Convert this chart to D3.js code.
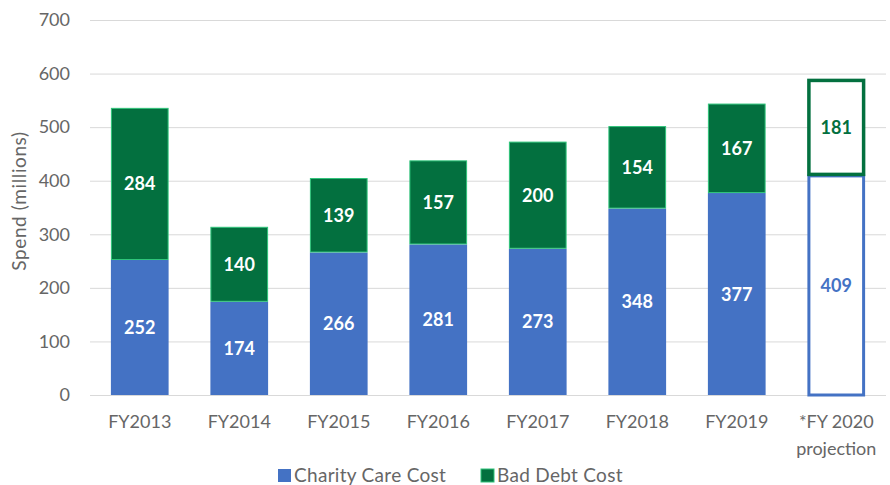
<!DOCTYPE html>
<html>
<head>
<meta charset="utf-8">
<script src="https://cdn.jsdelivr.net/npm/d3@7"></script>
<style>
  body { margin: 0; background: #fff; }
  text { font-family: Lato, "Open Sans", sans-serif; }
</style>
</head>
<body>
<script>
// chart values
var years = ["FY2013", "FY2014", "FY2015", "FY2016", "FY2017", "FY2018", "FY2019", "*FY 2020 projection"];
var charityCare = [252, 174, 266, 281, 273, 348, 377, 409];
var badDebt = [284, 140, 139, 157, 200, 154, 167, 181];
var yTicks = [0, 100, 200, 300, 400, 500, 600, 700];
var seriesNames = ["Charity Care Cost", "Bad Debt Cost"];

var width = 890, height = 485;
var margin = {left: 90, right: 4, top: 20, bottom: 90};
var blue = "#4472C4", green = "#03703F", lightGreen = "#2FC47A";
var grey = "#666666";

var svg = d3.select("body").append("svg")
  .attr("width", width)
  .attr("height", height);

var x = d3.scaleBand()
  .domain(years)
  .range([margin.left, width - margin.right])
  .paddingInner(0.42)
  .paddingOuter(0.21);

var y = d3.scaleLinear()
  .domain([0, 700])
  .range([height - margin.bottom, margin.top]);

// gridlines
svg.append("g")
  .selectAll("line")
  .data(yTicks)
  .enter()
  .append("line")
  .attr("x1", margin.left)
  .attr("x2", width - margin.right)
  .attr("y1", function(d){ return y(d) + 0.5; })
  .attr("y2", function(d){ return y(d) + 0.5; })
  .attr("stroke", "#d9d9d9")
  .attr("stroke-width", 1);

// y axis labels
var yAxis = d3.axisLeft(y).tickValues(yTicks).tickSize(0).tickPadding(20);
var yg = svg.append("g")
  .attr("transform", "translate(" + margin.left + ",0)")
  .call(yAxis);
yg.select(".domain").remove();
yg.selectAll("text").attr("fill", grey).style("font-size", "18px").style("font-family", "Lato");

svg.append("text")
  .attr("transform", "rotate(-90)")
  .attr("x", -201)
  .attr("y", 26)
  .attr("text-anchor", "middle")
  .attr("fill", grey)
  .style("font-size", "19px")
  .style("letter-spacing", "0.6px")
  .text("Spend (millions)");

// bars
var last = years.length - 1;
var stacked = years.map(function(d, i){
  return {year: d, charity: charityCare[i], debt: badDebt[i], proj: i == last};
});

var bars = svg.append("g").selectAll("g")
  .data(stacked)
  .enter()
  .append("g");

bars.append("rect")
  .attr("x", function(d){ return x(d.year) + (d.proj ? 1.5 : 0); })
  .attr("width", function(d){ return x.bandwidth() - (d.proj ? 3 : 0); })
  .attr("y", function(d){ return y(d.charity); })
  .attr("height", function(d){ return y(0) - y(d.charity); })
  .attr("fill", function(d){ return d.proj ? "#fff" : blue; })
  .attr("stroke", function(d){ return d.proj ? blue : "none"; })
  .attr("stroke-width", 3);

bars.append("rect")
  .attr("x", function(d){ return x(d.year) + (d.proj ? 1.5 : 0.5); })
  .attr("width", function(d){ return x.bandwidth() - (d.proj ? 3 : 1); })
  .attr("y", function(d){ return y(d.charity + d.debt) + (d.proj ? 1.5 : 0.5); })
  .attr("height", function(d){ return y(d.charity) - y(d.charity + d.debt) - (d.proj ? 3 : 1); })
  .attr("fill", function(d){ return d.proj ? "#fff" : green; })
  .attr("stroke", function(d){ return d.proj ? green : lightGreen; })
  .attr("stroke-width", function(d){ return d.proj ? 3.5 : 1; });

// value labels
bars.append("text")
  .attr("x", function(d){ return x(d.year) + x.bandwidth() / 2; })
  .attr("y", function(d){ return (y(0) + y(d.charity)) / 2 + 6.5; })
  .attr("text-anchor", "middle")
  .attr("fill", function(d){ return d.proj ? blue : "#fff"; })
  .style("font-size", "18px")
  .style("font-weight", "bold")
  .text(function(d){ return d.charity; });

bars.append("text")
  .attr("x", function(d){ return x(d.year) + x.bandwidth() / 2; })
  .attr("y", function(d){ return (y(d.charity) + y(d.charity + d.debt)) / 2 + 6.5; })
  .attr("text-anchor", "middle")
  .attr("fill", function(d){ return d.proj ? green : "#fff"; })
  .style("font-size", "18px")
  .style("font-weight", "bold")
  .text(function(d){ return d.debt; });

// x axis labels
var xAxis = d3.axisBottom(x).tickSize(0).tickPadding(0).tickFormat("");
var xg = svg.append("g")
  .attr("transform", "translate(0," + y(0) + ")")
  .call(xAxis);
xg.select(".domain").remove();
xg.selectAll(".tick").append("text")
  .attr("fill", grey)
  .attr("text-anchor", "middle")
  .style("font-size", "18px")
  .style("font-family", "Lato")
  .each(function(d){
    var lines = d == years[last] ? ["*FY 2020", "projection"] : [d];
    var t = d3.select(this);
    lines.forEach(function(l, i){
      t.append("tspan").attr("x", 0).attr("y", 33 + i * 27).text(l);
    });
  });

// legend
var legendColors = [blue, green];
var legendX = [278, 481];
var legend = svg.append("g").selectAll("g")
  .data(seriesNames)
  .enter()
  .append("g")
  .attr("transform", function(d, i){ return "translate(" + legendX[i] + ",469)"; });

legend.append("rect")
  .attr("width", 13)
  .attr("height", 13)
  .attr("fill", function(d, i){ return legendColors[i]; })
  .attr("stroke", function(d, i){ return i == 1 ? lightGreen : "none"; })
  .attr("stroke-width", 1);

legend.append("text")
  .attr("x", 16)
  .attr("y", 13)
  .attr("fill", grey)
  .style("font-size", "19px")
  .style("letter-spacing", "0.3px")
  .text(function(d){ return d; });
</script>
</body>
</html>
